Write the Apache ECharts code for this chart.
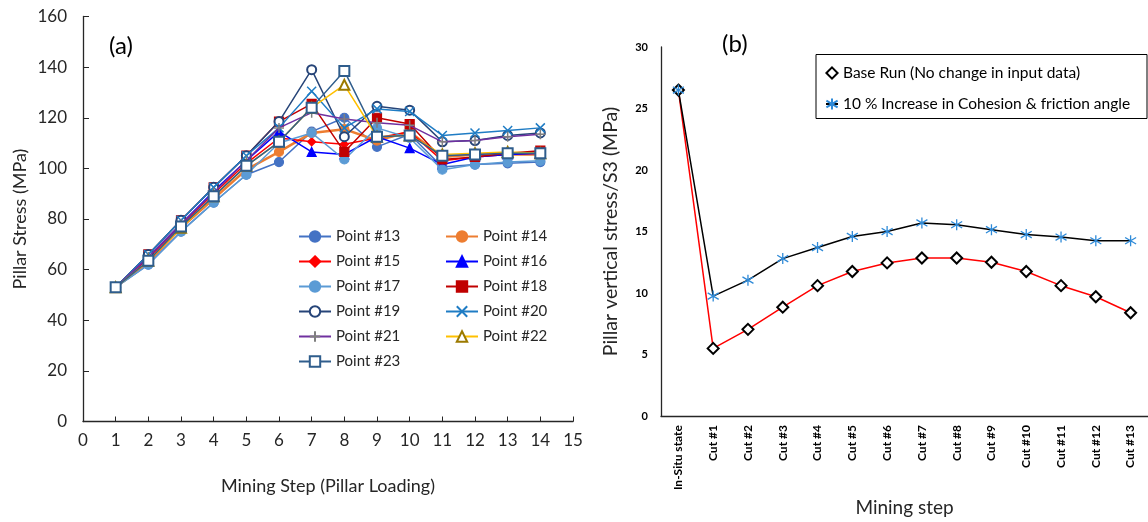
<!DOCTYPE html>
<html>
<head>
<meta charset="utf-8">
<script src="https://cdn.jsdelivr.net/npm/echarts@6/dist/echarts.min.js"></script>
<style>
  html, body { margin: 0; padding: 0; background: #fff; }
  #chart { width: 1148px; height: 522px; }
</style>
</head>
<body>
<div id="chart"></div>
<script>
// ---- Panel (a): pillar stress per mining step ----
const steps = [1, 2, 3, 4, 5, 6, 7, 8, 9, 10, 11, 12, 13, 14];
const p13 = [53, 62, 75, 86.5, 97.5, 102.5, 114.5, 120, 108.5, 113.5, 100.5, 101.5, 102, 102.5];
const p14 = [53, 63, 76.5, 88, 99.5, 106.5, 114, 115.5, 111, 114.5, 104.5, 105.5, 105.5, 105.5];
const p15 = [53, 64.5, 77.5, 90, 102, 112, 110.5, 109.5, 112, 114.5, 103, 104.5, 105.5, 106];
const p16 = [53, 65, 78, 91, 103, 114.5, 106.5, 105.5, 112.5, 108, 101.5, 104.5, 105.5, 106];
const p17 = [53, 62, 75, 86.5, 97.5, 110, 114, 103.5, 116, 112, 99.5, 101.5, 102.5, 103];
const p18 = [53, 66, 79.5, 92.5, 105, 118.5, 125.5, 106.5, 120, 117.5, 103.5, 104.5, 106, 107];
const p19 = [53, 66, 79.5, 92.5, 105, 118.5, 139, 112.5, 124.5, 123, 110.5, 111, 113, 114];
const p20 = [53, 66, 79.5, 92.5, 105, 116, 130.5, 116, 123.5, 122.5, 113, 114, 115, 116];
const p21 = [53, 65, 78, 90.5, 103, 116, 122, 119.5, 118, 117, 110.5, 111, 112.5, 113.5];
const p22 = [53, 63.5, 76.5, 89, 101, 110.5, 124, 133, 112.5, 113, 105.5, 106, 106.5, 106];
const p23 = [53, 63.5, 77, 89, 101, 110.5, 124, 138.5, 112.5, 113, 105, 105.5, 106, 106];
const pointNames = ['Point #13', 'Point #14', 'Point #15', 'Point #16', 'Point #17', 'Point #18',
                    'Point #19', 'Point #20', 'Point #21', 'Point #22', 'Point #23'];
const pointValues = [p13, p14, p15, p16, p17, p18, p19, p20, p21, p22, p23];

// ---- Panel (b): normalised pillar stress ----
const cutLabels = ['In-Situ state', 'Cut #1', 'Cut #2', 'Cut #3', 'Cut #4', 'Cut #5', 'Cut #6',
                   'Cut #7', 'Cut #8', 'Cut #9', 'Cut #10', 'Cut #11', 'Cut #12', 'Cut #13'];
const baseRun = [26.5, 5.5, 7.05, 8.85, 10.6, 11.75, 12.45, 12.85, 12.85, 12.5, 11.75, 10.6, 9.7, 8.4];
const increased = [26.5, 9.75, 11.05, 12.8, 13.7, 14.6, 15.0, 15.7, 15.55, 15.15, 14.75, 14.55, 14.25, 14.25];
const legendB = ['Base Run (No change in input data)', '10 % Increase in Cohesion & friction angle'];

const FONT = 'Lato, "Open Sans", sans-serif';
const XMARK = 'path://M0,0L10,10M10,0L0,10';
const PLUS = 'path://M5,0L5,10M0,5L10,5';
const STAR = 'path://M5,0L5,10M1,2L9,8M9,2L1,8';

// marker / line styles for each point series
const pointStyles = [
  { line: '#4472C4', symbol: 'circle', size: 9, fill: '#4472C4', width: 1.5 },
  { line: '#ED7D31', symbol: 'circle', size: 9, fill: '#ED7D31', width: 2.5 },
  { line: '#FF0000', symbol: 'diamond', size: 8, fill: '#FF0000', width: 1.5 },
  { line: '#0000FF', symbol: 'triangle', size: 9, fill: '#0000FF', width: 1.5 },
  { line: '#5B9BD5', symbol: 'circle', size: 9, fill: '#5B9BD5', width: 1.5 },
  { line: '#C00000', symbol: 'rect', size: 9, fill: '#C00000', width: 1.5 },
  { line: '#264478', symbol: 'emptyCircle', size: 9, fill: '#264478', width: 1.5 },
  { line: '#1F7CC4', symbol: XMARK, size: 9, fill: '#1F7CC4', width: 1.5, stroke: true },
  { line: '#7030A0', symbol: PLUS, size: 10, fill: '#7F7F7F', width: 1.5, stroke: true },
  { line: '#FFC000', symbol: 'emptyTriangle', size: 10, fill: '#9C7A00', width: 1.5 },
  { line: '#2F5D8C', symbol: 'emptyRect', size: 10, fill: '#2F5D8C', width: 1.5 }
];

const seriesA = pointNames.map((name, i) => {
  const s = pointStyles[i];
  return {
    name: name,
    type: 'line',
    xAxisIndex: 0,
    yAxisIndex: 0,
    data: steps.map((x, k) => [x, pointValues[i][k]]),
    symbol: s.symbol,
    symbolSize: s.size,
    lineStyle: { color: s.line, width: s.width },
    itemStyle: s.stroke
      ? { color: s.fill, borderColor: s.fill, borderWidth: 1.5 }
      : { color: s.fill, borderColor: s.fill, borderWidth: 1.2 },
    emphasis: { disabled: true },
    z: 2 + i
  };
});

const seriesB = [
  {
    name: legendB[0],
    type: 'line',
    xAxisIndex: 1,
    yAxisIndex: 1,
    data: baseRun,
    symbol: 'emptyDiamond',
    symbolSize: 11,
    lineStyle: { color: '#FF0000', width: 1.5 },
    itemStyle: { color: '#000', borderColor: '#000', borderWidth: 1 },
    emphasis: { disabled: true }
  },
  {
    name: legendB[1],
    type: 'line',
    xAxisIndex: 1,
    yAxisIndex: 1,
    data: increased,
    symbol: STAR,
    symbolSize: 11,
    lineStyle: { color: '#000', width: 1.5 },
    itemStyle: { color: '#2E8AD8', borderColor: '#2E8AD8', borderWidth: 1.3 },
    emphasis: { disabled: true }
  }
];

const chart = echarts.init(document.getElementById('chart'), null, { renderer: 'canvas' });
chart.setOption({
  animation: false,
  backgroundColor: '#fff',
  textStyle: { fontFamily: FONT },
  grid: [
    { left: 83, top: 16.5, width: 490, height: 405 },
    { left: 661, top: 47, width: 497, height: 371 }
  ],
  xAxis: [
    {
      gridIndex: 0, type: 'value', min: 0, max: 15, interval: 1,
      name: 'Mining Step (Pillar Loading)', nameLocation: 'middle', nameGap: 56,
      nameTextStyle: { fontSize: 18, color: '#262626', fontFamily: FONT },
      axisLine: { lineStyle: { color: '#262626', width: 1.3 } },
      axisTick: { inside: true, length: 5, lineStyle: { color: '#262626' } },
      axisLabel: { fontSize: 17, color: '#262626', margin: 11, fontFamily: FONT },
      splitLine: { show: false }
    },
    {
      gridIndex: 1, type: 'category', data: cutLabels, boundaryGap: true,
      name: 'Mining step', nameLocation: 'middle', nameGap: 80,
      nameTextStyle: { fontSize: 19, color: '#262626', fontFamily: FONT },
      axisLine: { lineStyle: { color: '#262626', width: 1.3 } },
      axisTick: { show: false },
      axisLabel: { rotate: 90, fontSize: 12, fontWeight: 'bold', color: '#000', margin: 9, interval: 0, fontFamily: FONT },
      splitLine: { show: false }
    }
  ],
  yAxis: [
    {
      gridIndex: 0, type: 'value', min: 0, max: 160, interval: 20,
      name: 'Pillar Stress (MPa)', nameLocation: 'middle', nameGap: 54,
      nameTextStyle: { fontSize: 18, color: '#262626', fontFamily: FONT },
      axisLine: { show: true, lineStyle: { color: '#262626', width: 1.3 } },
      axisTick: { show: true, inside: true, length: 6, lineStyle: { color: '#262626' } },
      axisLabel: { fontSize: 17, color: '#262626', margin: 16, fontFamily: FONT },
      splitLine: { show: false }
    },
    {
      gridIndex: 1, type: 'value', min: 0, max: 30, interval: 5,
      name: 'Pillar vertical stress/S3 (MPa)', nameLocation: 'middle', nameGap: 40,
      nameTextStyle: { fontSize: 19.5, color: '#262626', fontFamily: FONT },
      axisLine: { show: true, lineStyle: { color: '#262626', width: 1.3 } },
      axisTick: { show: false },
      axisLabel: { fontSize: 11, fontWeight: 'bold', color: '#000', margin: 13, fontFamily: FONT },
      splitLine: { show: false }
    }
  ],
  legend: [
    {
      data: pointNames.filter((_, i) => i % 2 === 0),
      orient: 'vertical', left: 293, top: 224,
      itemWidth: 32, itemHeight: 13, itemGap: 10,
      textStyle: { fontSize: 15, color: '#262626', lineHeight: 13, fontFamily: FONT },
      selectedMode: false
    },
    {
      data: pointNames.filter((_, i) => i % 2 === 1),
      orient: 'vertical', left: 440, top: 224,
      itemWidth: 32, itemHeight: 13, itemGap: 10,
      textStyle: { fontSize: 15, color: '#262626', lineHeight: 13, fontFamily: FONT },
      selectedMode: false
    },
    {
      data: legendB,
      orient: 'vertical', left: 820, top: 60,
      itemWidth: 12, itemHeight: 14, itemGap: 15,
      textStyle: { fontSize: 15.5, color: '#000', lineHeight: 15, fontFamily: FONT },
      selectedMode: false
    }
  ],
  graphic: [
    { type: 'text', left: 109, top: 34, style: { text: '(a)', font: '24px ' + FONT, fill: '#000' } },
    { type: 'text', left: 722, top: 32, style: { text: '(b)', font: '24px ' + FONT, fill: '#000' } },
    { type: 'rect', shape: { x: 816, y: 54.5, width: 331, height: 64 },
      style: { fill: 'none', stroke: '#000', lineWidth: 1 }, z: 10 }
  ],
  series: seriesA.concat(seriesB)
});
</script>
</body>
</html>
